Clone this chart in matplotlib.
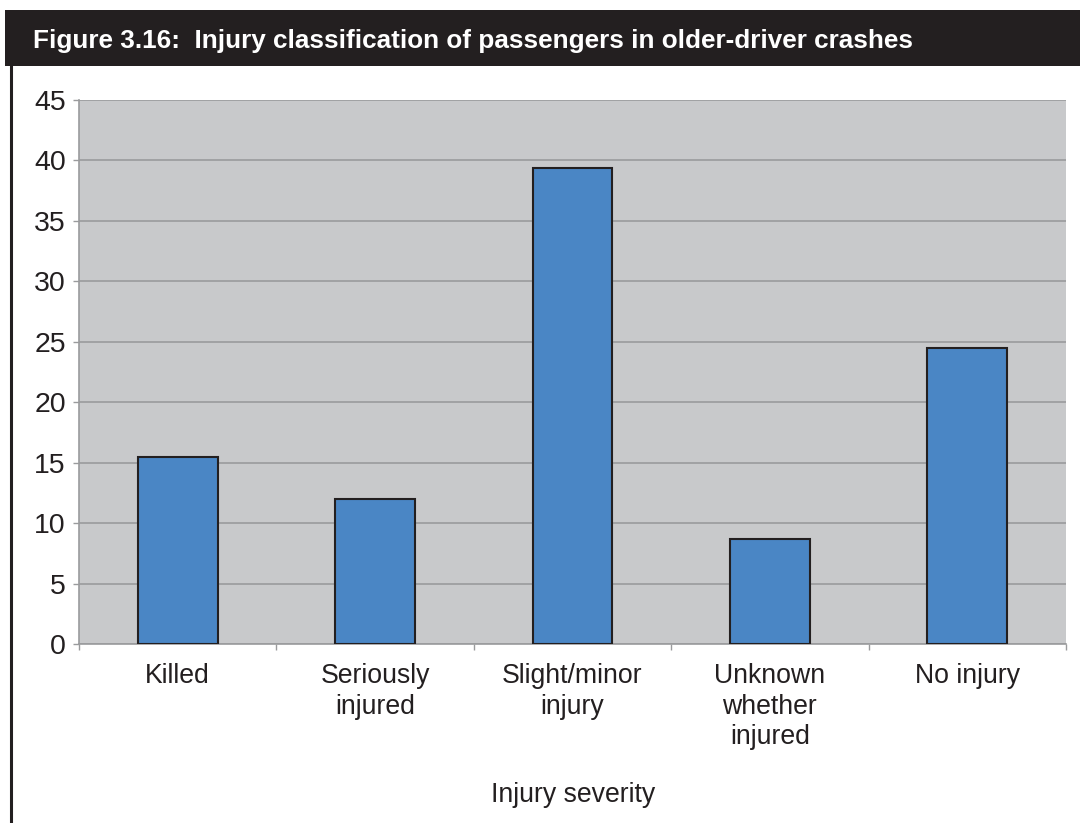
import matplotlib
matplotlib.use("Agg")
import matplotlib.pyplot as plt
from matplotlib.patches import Rectangle
from matplotlib.lines import Line2D

categories = ["Killed", "Seriously\ninjured", "Slight/minor\ninjury", "Unknown\nwhether\ninjured", "No injury"]
values = [15.5, 12.0, 39.4, 8.7, 24.5]
yticks = [0, 5, 10, 15, 20, 25, 30, 35, 40, 45]
title = "Figure 3.16:  Injury classification of passengers in older-driver crashes"
xlabel = "Injury severity"

W, H = 1080, 823
fig = plt.figure(figsize=(W / 100, H / 100), dpi=100)
fig.patch.set_facecolor("white")

# title bar
fig.patches.append(Rectangle((5 / W, 1 - 66 / H), 1 - 5 / W, 56 / H, transform=fig.transFigure,
                             facecolor="#231f20", edgecolor="none", zorder=0))
fig.text(33 / W, 1 - 41 / H, title, color="white", fontsize=18.8, fontweight="bold",
         family=["Liberation Sans Narrow", "Liberation Sans"], va="center", ha="left")
# left border line
fig.lines.append(Line2D([10.5 / W, 10.5 / W], [0, 1 - 66 / H], transform=fig.transFigure,
                        color="#231f20", lw=2.2))

ax = fig.add_axes([79 / W, 1 - 644 / H, (1066 - 79) / W, (644 - 100) / H])
ax.set_facecolor("#c8c9cb")
x = list(range(len(categories)))
ax.bar(x, values, width=0.405, color="#4a86c5", edgecolor="#231f20", linewidth=1.5, zorder=3)
ax.set_xlim(-0.5, len(categories) - 0.5)
ax.set_ylim(0, 45)
ax.set_yticks(yticks)
ax.set_yticklabels([str(t) for t in yticks], family="Liberation Sans", fontsize=20.5, color="#231f20")
ax.grid(axis="y", color="#9a9b9d", lw=1.2, zorder=1)
ax.set_axisbelow(True)
ax.set_xticks([i + 0.5 for i in range(-1, len(categories))], minor=True)
ax.set_xticks(x)
ax.set_xticklabels(categories, family="Liberation Sans", fontsize=19.2, color="#231f20", linespacing=1.22)
ax.tick_params(axis="x", which="major", length=0, pad=14)
ax.tick_params(axis="x", which="minor", length=4.5, color="#9a9b9d", width=1)
ax.tick_params(axis="y", length=4.5, color="#9a9b9d", width=1, pad=5)
for s in ["top", "right"]:
    ax.spines[s].set_visible(False)
for s in ["left", "bottom"]:
    ax.spines[s].set_color("#9a9b9d")
    ax.spines[s].set_linewidth(1.2)

fig.text(573 / W, 1 - 795 / H, xlabel, family="Liberation Sans", fontsize=19.2, color="#231f20",
         ha="center", va="center")

fig.savefig("out.png", dpi=100)
